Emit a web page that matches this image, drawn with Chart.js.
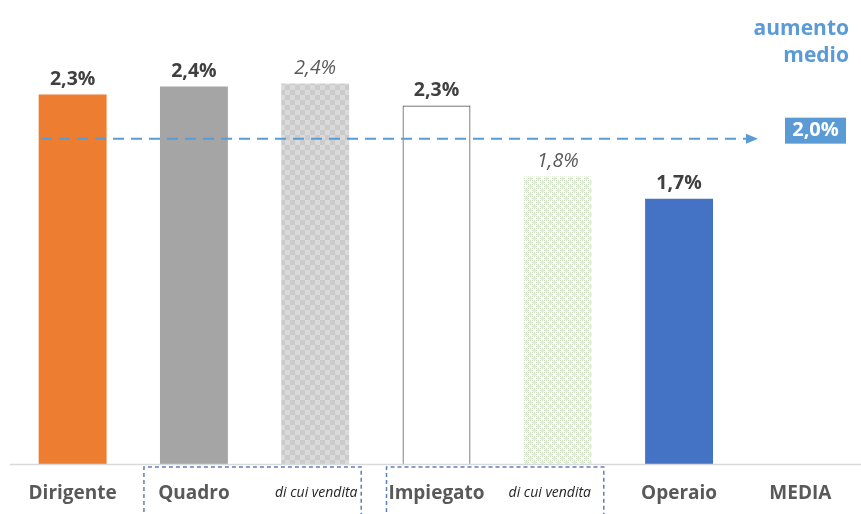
<!DOCTYPE html>
<html lang="it">
<head>
  <meta charset="UTF-8">
  <title>Aumento medio per qualifica</title>
  <script src="https://cdn.jsdelivr.net/npm/chart.js"></script>
  <style>
    body { margin: 0; background: #fff; }
    canvas { display: block; }
  </style>
</head>
<body>
  <canvas id="bars" width="861" height="514"></canvas>

  <script>
    // dati
    const categories = ['Dirigente', 'Quadro', 'di cui vendita', 'Impiegato', 'di cui vendita', 'Operaio', 'MEDIA'];
    const values = [2.34, 2.39, 2.41, 2.27, 1.82, 1.68, null];
    const valueLabels = ['2,3%', '2,4%', '2,4%', '2,3%', '1,8%', '1,7%', ''];
    const isSubItem = [false, false, true, false, true, false, false];
    const average = 2.06;
    const averageLabel = '2,0%';

    const FONT = '"Open Sans", "Noto Sans", sans-serif';

    function makePattern(size, draw) {
      const c = document.createElement('canvas');
      c.width = size; c.height = size;
      draw(c.getContext('2d'));
      return c.getContext('2d').createPattern(c, 'repeat');
    }

    const checker = makePattern(10, g => {
      g.fillStyle = '#dadada'; g.fillRect(0, 0, 10, 10);
      g.fillStyle = '#cbcbcb'; g.fillRect(0, 0, 5, 5); g.fillRect(5, 5, 5, 5);
    });
    const greenDots = makePattern(8, g => {
      g.fillStyle = '#ffffff'; g.fillRect(0, 0, 8, 8);
      g.fillStyle = '#cfe3c2';
      for (let i = 0; i < 8; i += 2) { g.fillRect(i, 0, 1, 1); g.fillRect(i, 4, 1, 1); g.fillRect(0, i, 1, 1); g.fillRect(4, i, 1, 1); }
      g.fillStyle = '#e2efda';
      g.fillRect(1, 1, 3, 3); g.fillRect(5, 5, 3, 3);
    });

    const colors = ['#ed7d31', '#a5a5a5', checker, '#ffffff', greenDots, '#4472c4', 'rgba(0,0,0,0)'];

    const overlay = {
      id: 'overlay',
      afterDatasetsDraw(chart) {
        const { ctx, chartArea, scales: { x, y } } = chart;
        const meta = chart.getDatasetMeta(0);
        ctx.save();

        // linea asse
        ctx.strokeStyle = '#d9d9d9';
        ctx.lineWidth = 1.5;
        ctx.beginPath();
        ctx.moveTo(chartArea.left - 2, chartArea.bottom + 0.5);
        ctx.lineTo(chartArea.right, chartArea.bottom + 0.5);
        ctx.stroke();

        // etichette valori
        ctx.textAlign = 'center';
        ctx.textBaseline = 'middle';
        meta.data.forEach((bar, i) => {
          if (!valueLabels[i]) return;
          if (isSubItem[i]) {
            ctx.font = 'italic 19.5px ' + FONT;
            ctx.fillStyle = '#595959';
          } else {
            ctx.font = 'bold 19.5px ' + FONT;
            ctx.fillStyle = '#404040';
          }
          ctx.fillText(valueLabels[i], bar.x, bar.y - 15);
        });

        // etichette categorie
        categories.forEach((c, i) => {
          const px = x.getPixelForValue(i);
          if (isSubItem[i]) {
            ctx.font = 'italic 14px ' + FONT;
            ctx.fillStyle = '#262626';
            // la seconda "di cui vendita" sta un po' più a sinistra
            ctx.fillText(c, px + (i === 4 ? -8 : 1), chartArea.bottom + 29);
          } else {
            ctx.font = 'bold 19px ' + FONT;
            ctx.fillStyle = '#595959';
            ctx.fillText(c, px, chartArea.bottom + 30);
          }
        });

        // riquadri tratteggiati
        ctx.strokeStyle = '#5f7fb8';
        ctx.lineWidth = 1.5;
        ctx.setLineDash([4, 3]);
        [[1, 2], [3, 4]].forEach(([a, b]) => {
          const l = x.getPixelForValue(a) - 50;
          const r = x.getPixelForValue(b) + 46;
          ctx.beginPath();
          ctx.moveTo(l, chart.height + 5);
          ctx.lineTo(l, chartArea.bottom + 3);
          ctx.lineTo(r, chartArea.bottom + 3);
          ctx.lineTo(r, chart.height + 5);
          ctx.stroke();
        });

        // linea media
        const ay = y.getPixelForValue(average);
        const endX = 748;
        ctx.strokeStyle = '#5b9bd5';
        ctx.lineWidth = 2;
        ctx.setLineDash([11, 7]);
        ctx.beginPath();
        ctx.moveTo(chartArea.left + 29, ay);
        ctx.lineTo(endX, ay);
        ctx.stroke();
        ctx.setLineDash([]);
        ctx.fillStyle = '#5b9bd5';
        ctx.beginPath();
        ctx.moveTo(endX - 2, ay - 5);
        ctx.lineTo(endX + 10, ay);
        ctx.lineTo(endX - 2, ay + 5);
        ctx.closePath();
        ctx.fill();

        // riquadro media
        ctx.fillRect(785, ay - 21, 61, 26);
        ctx.fillStyle = '#ffffff';
        ctx.font = 'bold 20px ' + FONT;
        ctx.fillText(averageLabel, 815.5, ay - 8);

        ctx.fillStyle = '#5b9bd5';
        ctx.font = 'bold 21px ' + FONT;
        ctx.textAlign = 'right';
        ctx.fillText('aumento', 849, 29);
        ctx.fillText('medio', 849, 56);

        ctx.restore();
      }
    };

    new Chart(document.getElementById('bars'), {
      type: 'bar',
      data: {
        labels: categories,
        datasets: [{
          data: values,
          backgroundColor: colors,
          borderColor: '#595959',
          borderWidth: [0, 0, 0, 1.2, 0, 0, 0],
          barPercentage: 0.56,
          categoryPercentage: 1
        }]
      },
      options: {
        responsive: false,
        animation: false,
        layout: { padding: { left: 12, right: 0, top: 6, bottom: 50 } },
        scales: {
          x: { display: false },
          y: { display: false, min: 0, max: 2.9 }
        },
        plugins: {
          legend: { display: false },
          tooltip: { enabled: false }
        }
      },
      plugins: [overlay]
    });
  </script>
</body>
</html>
